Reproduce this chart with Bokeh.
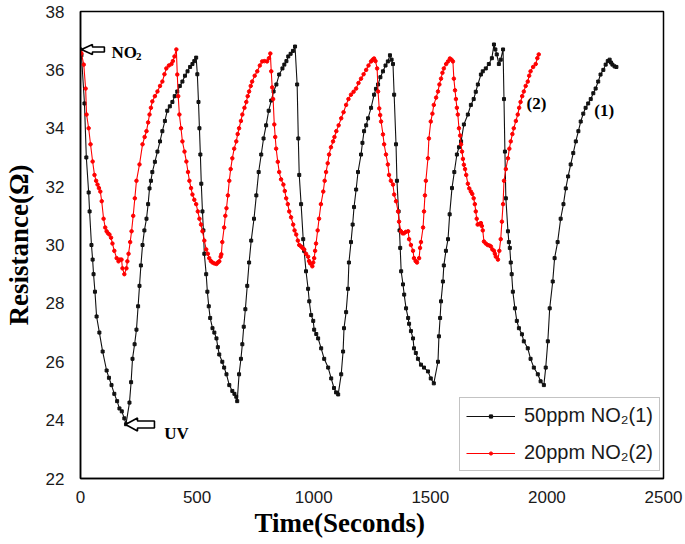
from bokeh.plotting import figure
from bokeh.models import (Range1d, Legend, LegendItem, Label, PolyAnnotation, Title,
                          FixedTicker, ColumnDataSource)
from bokeh.embed import file_html
from bokeh.resources import INLINE

# ---------------- data ----------------
black_t = [0, 4, 17, 25, 35, 39, 47, 52, 56, 62, 69, 81, 95, 112, 122, 133, 145, 157, 167, 177, 188, 195,
           210, 217, 223, 232, 240, 247, 253, 259, 266, 274, 283, 290, 296, 302, 308, 319, 330, 341, 351, 362,
           372, 383, 394, 404, 415, 426, 437, 448, 459, 470, 480, 488, 496,
           501, 506, 510, 514, 518, 523, 527, 531, 539, 544, 550, 556, 566, 574, 583, 589, 595, 608, 616, 626,
           638, 651, 660, 668, 672,
           680, 688, 694, 700, 707, 715, 723, 732, 744, 754, 764, 775, 785, 796, 807, 818, 828, 840, 852, 866,
           874, 883, 891, 901, 911, 920,
           929, 934, 938, 946, 955, 959, 967, 976, 981, 989, 998, 1002, 1011, 1019, 1032, 1045, 1062, 1075,
           1087, 1096, 1105,
           1118, 1126, 1130, 1139, 1147, 1151, 1160, 1167, 1173, 1182, 1190, 1203, 1209, 1216, 1225, 1233,
           1246, 1259, 1267, 1276, 1286, 1297, 1308, 1318, 1327, 1334, 1340,
           1345, 1353, 1357, 1364, 1368, 1371, 1375, 1383, 1388, 1396, 1405, 1409, 1417, 1426, 1430, 1438,
           1447, 1460, 1473, 1490, 1502, 1515,
           1533, 1537, 1542, 1546, 1554, 1558, 1567, 1576, 1583, 1593, 1603, 1614, 1623, 1632, 1644, 1661,
           1674, 1686, 1695, 1704, 1717, 1725, 1738, 1751, 1764, 1773, 1779, 1785, 1794, 1802, 1812,
           1816, 1820, 1824, 1833, 1837, 1841, 1845, 1849, 1854, 1863, 1871, 1880, 1893, 1901, 1918, 1930,
           1944, 1961, 1973, 1987,
           1995, 2004, 2012, 2025, 2033, 2046, 2059, 2071, 2081, 2091, 2102, 2113, 2124, 2135, 2145, 2156,
           2166, 2177, 2188, 2199, 2209, 2220, 2230, 2242, 2252, 2261, 2269, 2275, 2281, 2290, 2298]
black_r = [36.7, 36.5, 34.85, 33.0, 31.8, 31.15, 30.0, 29.5, 29.0, 28.4, 27.55, 27.0, 26.35, 25.7, 25.45, 25.2,
           24.9, 24.65, 24.4, 24.3, 24.06, 23.86,
           24.6, 25.3, 26.1, 26.6, 27.1, 27.9, 28.6, 29.3, 30.0, 30.5, 30.9, 31.4, 31.94, 32.2, 32.5, 32.85,
           33.2, 33.55, 33.9, 34.25, 34.6, 34.75, 34.9, 35.1, 35.26, 35.45, 35.6, 35.8, 35.95, 36.1, 36.2,
           36.3, 36.42,
           35.85, 34.9, 34.0, 33.1, 32.1, 31.15, 30.5, 29.7, 29.0, 28.4, 27.9, 27.5, 27.15, 27.0, 26.8, 26.5,
           26.25, 26.0, 25.8, 25.57, 25.2, 25.0, 24.9, 24.8, 24.65,
           25.57, 26.1, 26.6, 27.2, 27.8, 28.6, 29.4, 30.15, 30.9, 31.7, 32.5, 33.1, 33.65, 34.1, 34.6, 34.95,
           35.26, 35.5, 35.84, 36.05, 36.18, 36.3, 36.46, 36.55, 36.65, 36.8,
           35.5, 33.65, 32.4, 31.4, 30.2, 29.8, 29.1, 28.5, 28.07, 27.6, 27.4, 27.1, 26.95, 26.8, 26.46, 26.1,
           25.8, 25.43, 25.1, 24.95, 24.88,
           25.57, 26.35, 27.15, 27.7, 28.5, 29.4, 30.1, 30.7, 31.3, 31.9, 32.5, 33.1, 33.5, 33.9, 34.1, 34.34,
           34.7, 35.15, 35.35, 35.5, 35.75, 35.95, 36.15, 36.29, 36.5, 36.35, 36.2,
           35.15, 33.45, 32.2, 31.15, 30.5, 29.9, 29.1, 28.65, 28.3, 27.83, 27.5, 27.3, 27.05, 26.8, 26.46,
           26.3, 26.1, 25.9, 25.8, 25.67, 25.43, 25.26,
           26.0, 26.87, 27.5, 28.07, 28.75, 29.3, 29.8, 30.2, 31.05, 31.95, 32.5, 33.1, 33.35, 33.55, 34.13,
           34.47, 34.8, 35.0, 35.25, 35.5, 35.84, 35.95, 36.05, 36.2, 36.4, 36.87, 36.7, 36.53, 36.2, 36.35,
           36.7,
           35.0, 33.2, 31.6, 30.47, 30.1, 29.9, 29.4, 29.0, 28.4, 27.83, 27.4, 27.15, 26.94, 26.7, 26.46, 26.1,
           25.8, 25.57, 25.33, 25.2,
           25.8, 26.7, 27.83, 28.75, 29.55, 30.1, 30.9, 31.4, 31.94, 32.35, 32.76, 33.15, 33.55, 33.9, 34.23,
           34.5, 34.7, 34.85, 35.0, 35.2, 35.36, 35.6, 35.84, 36.0, 36.18, 36.3, 36.35, 36.25, 36.18, 36.12,
           36.1]

red_t = [0, 4, 14, 22, 26, 35, 43, 52, 60, 67, 73, 79, 85, 91, 99, 106, 112, 118, 124, 131, 137, 145, 155,
         163, 169, 176, 180, 188, 197, 201,
         206, 213, 219, 226, 233, 240, 253, 266, 275, 283, 290, 296, 302, 308, 319, 330, 341, 351, 360, 368,
         379, 390, 396, 403, 411,
         415, 419, 424, 431, 437, 446, 454, 461, 467, 474, 480, 488, 496, 503, 510, 517, 523, 531, 539, 546,
         552, 559, 566, 574, 583, 589, 595, 601, 604,
         608, 616, 621, 626, 632, 638, 644, 651, 659, 668, 674, 680, 688, 694, 703, 711, 717, 723, 730, 736,
         747, 758, 769, 779, 789, 800, 808, 814,
         818, 822, 826, 831, 835, 839, 846, 852, 860, 870, 876, 882, 889, 895, 903, 912, 918, 925, 932, 938,
         946, 952, 959, 967, 976, 980, 985, 994,
         998, 1002, 1006, 1010, 1017, 1023, 1031, 1041, 1047, 1053, 1060, 1066, 1074, 1083, 1089, 1097,
         1107, 1118, 1128, 1139, 1149, 1160, 1171, 1182, 1192, 1203, 1214, 1225, 1235, 1246, 1253, 1259,
         1265, 1272, 1276, 1281, 1285, 1289, 1297, 1302, 1310, 1318, 1323, 1331, 1340, 1345, 1353, 1362,
         1366, 1374, 1381, 1387, 1395, 1405, 1409, 1417, 1426, 1430, 1437, 1443,
         1452, 1456, 1460, 1469, 1473, 1477, 1481, 1490, 1494, 1502, 1509, 1515, 1525, 1533, 1539, 1546,
         1552, 1558, 1568, 1576, 1584, 1591, 1597,
         1601, 1606, 1610, 1614, 1618, 1623, 1628, 1632, 1636, 1640, 1644, 1649, 1654, 1661, 1667, 1674,
         1680, 1686, 1691, 1695, 1699, 1703, 1711, 1717, 1721, 1725, 1730, 1738, 1746, 1754, 1760, 1766,
         1773, 1777, 1781, 1790,
         1796, 1802, 1807, 1812, 1816, 1824, 1833, 1839, 1845, 1852, 1858, 1867, 1875, 1881, 1887, 1894,
         1901, 1909, 1918, 1924, 1930, 1941, 1952, 1959, 1965]
red_r = [36.6, 36.56, 36.18, 35.36, 34.47, 34.0, 33.45, 32.86, 32.4, 32.2, 32.07, 31.95, 31.83, 31.5, 30.9,
         30.6, 30.47, 30.4, 30.36, 30.25, 30.05, 29.8, 29.55, 29.44, 29.5, 29.5, 29.2, 29.0, 29.2, 29.44,
         29.7, 30.1, 30.47, 31.0, 31.6, 32.2, 32.76, 33.45, 33.7, 33.9, 34.2, 34.47, 34.7, 34.92, 35.1, 35.26,
         35.45, 35.6, 35.85, 36.05, 36.15, 36.2, 36.3, 36.46, 36.7,
         35.84, 35.1, 34.47, 34.0, 33.55, 33.2, 32.86, 32.5, 32.2, 31.95, 31.73, 31.55, 31.4, 31.15, 30.9,
         30.7, 30.47, 30.15, 29.85, 29.7, 29.55, 29.45, 29.4, 29.37, 29.35, 29.4, 29.44, 29.6, 29.68,
         30.1, 30.6, 31.0, 31.26, 31.7, 32.2, 32.6, 32.97, 33.3, 33.55, 33.8, 34.0, 34.25, 34.47, 34.7, 34.9,
         35.1, 35.26, 35.45, 35.6, 35.8, 35.95, 36.15, 36.29, 36.3, 36.29, 36.4, 36.56,
         35.95, 35.4, 35.0, 34.13, 33.7, 33.3, 32.85, 32.5, 32.25, 32.07, 31.85, 31.6, 31.4, 31.15, 30.95,
         30.7, 30.5, 30.36, 30.15, 30.0, 29.95, 29.9, 29.85, 29.7, 29.6, 29.45, 29.37, 29.27,
         29.4, 29.55, 29.8, 30.05, 30.5, 30.9, 31.4, 31.83, 32.2, 32.5, 32.8, 33.1, 33.35, 33.55, 33.7, 33.9,
         34.1, 34.34, 34.55, 34.8, 35.0, 35.15, 35.25, 35.36, 35.55, 35.7, 35.85, 36.0, 36.15, 36.29, 36.35,
         36.39,
         36.3, 36.05, 35.26, 34.68, 34.45, 34.23, 33.79, 33.45, 33.1, 32.76, 32.4, 32.2, 32.07, 31.73, 31.5,
         31.15, 30.8, 30.47, 30.4, 30.4, 30.45, 30.47, 30.2, 30.0, 29.8, 29.55, 29.45, 29.4,
         29.55, 29.9, 30.1, 30.6, 31.15, 31.7, 32.2, 32.97, 33.65, 34.23, 34.5, 34.8, 35.05, 35.26, 35.5,
         35.7, 35.9, 36.05, 36.2, 36.29, 36.39, 36.35, 36.29,
         35.7, 35.3, 35.0, 34.7, 34.47, 34.0, 33.75, 33.45, 33.2, 32.95, 32.75, 32.6, 32.4, 32.1, 31.94,
         31.83, 31.75, 31.6, 31.4, 31.15, 30.9, 30.7, 30.72, 30.75, 30.65, 30.5, 30.12, 30.05, 30.0, 29.98,
         29.95, 29.85, 29.8, 29.7, 29.6, 29.5,
         29.8, 30.2, 30.8, 31.4, 32.2, 32.6, 32.97, 33.3, 33.55, 33.8, 34.0, 34.25, 34.47, 34.7, 34.9, 35.1,
         35.26, 35.45, 35.6, 35.8, 35.95, 36.1, 36.2, 36.4, 36.53]

x_ticks = [0, 500, 1000, 1500, 2000, 2500]
y_ticks = [22, 24, 26, 28, 30, 32, 34, 36, 38]
series_labels = ["50ppm NO\u2082(1)", "20ppm NO\u2082(2)"]
x_title = "Time(Seconds)"
y_title = "Resistance(\u03a9)"

# ---------------- figure ----------------
W, H = 685, 544
BL, BR, BT, BB = 79, 22, 11, 66
p = figure(width=W, height=H, output_backend="svg", toolbar_location=None,
           x_range=Range1d(0, 2500), y_range=Range1d(22, 38),
           min_border_left=BL, min_border_right=BR, min_border_top=BT, min_border_bottom=BB)
p.background_fill_color = "white"
p.border_fill_color = "white"
p.outline_line_color = "black"
p.outline_line_width = 1.5
p.grid.visible = False

for ax in (p.xaxis[0], p.yaxis[0]):
    ax.axis_line_color = "black"
    ax.axis_line_width = 1.5
    ax.major_tick_line_color = None
    ax.minor_tick_line_color = None
    ax.major_label_text_font = "Liberation Sans"
    ax.major_label_text_font_size = "17px"
    ax.major_label_text_color = "#1a1a1a"
    ax.axis_label_text_font = "Liberation Serif"
    ax.axis_label_text_font_style = "bold"
    ax.axis_label_text_font_size = "27px"
    ax.axis_label_text_color = "black"

p.xaxis.ticker = FixedTicker(ticks=x_ticks)
p.yaxis.ticker = FixedTicker(ticks=y_ticks)
p.yaxis.axis_label = y_title
p.xaxis.major_label_standoff = 6
p.yaxis.major_label_standoff = 10
p.yaxis.axis_label_standoff = 9

# x-axis title: a left-aligned title panel below the axis (it sits left of centre in the reference)
p.add_layout(Title(text=x_title, align="left", offset=174, standoff=0,
                   text_font="Liberation Serif", text_font_style="bold",
                   text_font_size="27px", text_color="black"), "below")

src1 = ColumnDataSource(dict(t=black_t, r=black_r))
src2 = ColumnDataSource(dict(t=red_t, r=red_r))

l1 = p.line("t", "r", source=src1, line_color="#111111", line_width=1.1)
s1 = p.scatter("t", "r", source=src1, marker="square", size=3, fill_color="#111111", line_color="#111111")
l2 = p.line("t", "r", source=src2, line_color="#ff0000", line_width=1.1)
s2 = p.scatter("t", "r", source=src2, marker="circle", size=3.5, fill_color="#ff0000", line_color="#ff0000")

legend = Legend(items=[LegendItem(label=series_labels[0], renderers=[l1, s1]),
                       LegendItem(label=series_labels[1], renderers=[l2, s2])],
                location=(379, 7), orientation="vertical",
                label_text_font="Liberation Sans", label_text_font_size="20px",
                label_text_color="#1a1a1a",
                glyph_width=49, glyph_height=8, label_height=22, label_standoff=9,
                padding=6, spacing=14, margin=0,
                border_line_color="#888888", border_line_width=1,
                background_fill_color="white", background_fill_alpha=1)
p.add_layout(legend)

# ---------------- annotations ----------------
FW = W - BL - BR
FH = H - BT - BB
PX_X = 2500 / FW     # data units per pixel (x)
PX_Y = 16 / FH       # data units per pixel (y)


def hollow_arrow(tip_x, tip_y, head_len, head_half, body_len, body_half):
    pts = [(0, 0), (head_len, head_half), (head_len, body_half), (body_len, body_half),
           (body_len, -body_half), (head_len, -body_half), (head_len, -head_half)]
    xs = [tip_x + dx * PX_X for dx, dy in pts]
    ys = [tip_y + dy * PX_Y for dx, dy in pts]
    return PolyAnnotation(xs=xs, ys=ys, fill_color="white", fill_alpha=1,
                          line_color="black", line_alpha=1, line_width=1.6)


p.add_layout(hollow_arrow(4, 36.70, 11, 5, 23, 2.5))
p.add_layout(hollow_arrow(193, 23.85, 12, 6.5, 29, 3.5))


def lab(x, y, text, size, align="left"):
    p.add_layout(Label(x=x, y=y, text=text, text_font="Liberation Serif", text_font_style="bold",
                       text_font_size=size, text_color="black", text_baseline="middle",
                       text_align=align))


lab(133, 36.60, "NO", "17px")
lab(238, 36.45, "2", "11px")
lab(359, 23.55, "UV", "17px")
lab(1913, 34.85, "(2)", "17px")
lab(2203, 34.6, "(1)", "17px")

open("out.html", "w").write(file_html(p, INLINE))
